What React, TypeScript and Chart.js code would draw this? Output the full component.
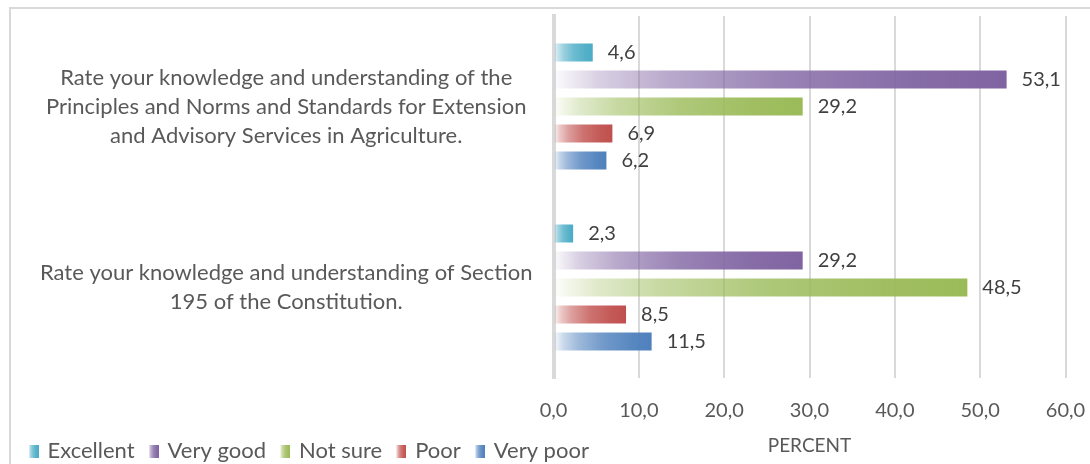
import React, { useEffect, useRef } from "react";
import { Chart, registerables } from "chart.js";

Chart.register(...registerables);

const categories: string[][] = [
  [
    "Rate your knowledge and understanding of the",
    "Principles and Norms and Standards for Extension",
    "and Advisory Services in Agriculture.",
  ],
  [
    "Rate your knowledge and understanding of Section",
    "195 of the Constitution.",
  ],
];

const seriesNames = ["Excellent", "Very good", "Not sure", "Poor", "Very poor"];
const excellent = [4.6, 2.3];
const veryGood = [53.1, 29.2];
const notSure = [29.2, 48.5];
const poor = [6.9, 8.5];
const veryPoor = [6.2, 11.5];
const seriesColors = ["#4bacc6", "#8064a2", "#9bbb59", "#c0504d", "#4f81bd"];

const xTicks = [0, 10, 20, 30, 40, 50, 60];
const axisTitle = "PERCENT";

const FONT = "Lato";
const TEXT = "#595959";
const LABEL = "#404040";
const GRID = "#d9d9d9";
const PAD_LEFT = 14.5;

function rgba(hex: string, a: number) {
  const n = parseInt(hex.slice(1), 16);
  return `rgba(${(n >> 16) & 255},${(n >> 8) & 255},${n & 255},${a})`;
}

const stops: [number, number][] = [
  [0, 0.02],
  [0.1, 0.3],
  [0.25, 0.55],
  [0.5, 0.8],
  [0.8, 0.95],
  [1, 1],
];

function makeSwatch(color: string) {
  const c = document.createElement("canvas");
  c.width = 10;
  c.height = 13;
  const g = c.getContext("2d")!;
  const gr = g.createLinearGradient(0, 0, 10, 0);
  stops.forEach(([p, a]) => gr.addColorStop(p, rgba(color, a)));
  g.fillStyle = gr;
  g.fillRect(0, 0, 10, 13);
  return c;
}

export default function App() {
  const ref = useRef<HTMLCanvasElement | null>(null);

  useEffect(() => {
    document.body.style.margin = "0";
    const canvas = ref.current;
    if (!canvas) return;

    const values = [excellent, veryGood, notSure, poor, veryPoor];
    const swatches = seriesColors.map(makeSwatch);

    const datasets = seriesNames.map((name, i) => ({
      label: name,
      data: values[i],
      borderWidth: 0,
      categoryPercentage: 0.746,
      barPercentage: 0.667,
      backgroundColor: (ctx: any) => {
        const color = seriesColors[i];
        const chart = ctx.chart;
        if (ctx.type !== "data" || !chart.chartArea || !chart.scales.x) return color;
        const xs = chart.scales.x;
        const x0 = xs.getPixelForValue(0);
        const x1 = xs.getPixelForValue(ctx.raw);
        if (!isFinite(x0) || !isFinite(x1) || x1 - x0 < 1) return color;
        const gr = chart.ctx.createLinearGradient(x0, 0, x1, 0);
        stops.forEach(([p, a]) => gr.addColorStop(p, rgba(color, a)));
        return gr;
      },
    }));

    const borderPlugin = {
      id: "outerBorder",
      beforeDraw(chart: any) {
        const c = chart.ctx;
        c.save();
        c.strokeStyle = GRID;
        c.lineWidth = 2;
        c.beginPath();
        c.moveTo(10, chart.height + 5);
        c.lineTo(10, 8);
        c.lineTo(chart.width + 5, 8);
        c.stroke();
        c.restore();
      },
    };

    const labelPlugin = {
      id: "valueLabels",
      afterDatasetsDraw(chart: any) {
        const c = chart.ctx;
        c.save();
        c.font = `20px ${FONT}`;
        c.fillStyle = LABEL;
        c.textAlign = "left";
        c.textBaseline = "middle";
        chart.data.datasets.forEach((ds: any, i: number) => {
          const meta = chart.getDatasetMeta(i);
          meta.data.forEach((el: any, j: number) => {
            const v = ds.data[j] as number;
            c.fillText(v.toFixed(1).replace(".", ","), el.x + 15, el.y);
          });
        });
        const ca = chart.chartArea;
        c.font = `19px ${FONT}`;
        c.fillStyle = TEXT;
        c.textAlign = "center";
        c.fillText(axisTitle, (ca.left + ca.right) / 2, 446);
        c.restore();
      },
    };

    const chart = new Chart(canvas, {
      type: "bar",
      data: { labels: categories as any, datasets: datasets as any },
      plugins: [borderPlugin, labelPlugin],
      options: {
        indexAxis: "y",
        animation: false,
        responsive: true,
        maintainAspectRatio: false,
        events: [],
        layout: { padding: { left: PAD_LEFT, top: 16, right: 24.5, bottom: -8 } },
        scales: {
          x: {
            min: 0,
            max: 60,
            afterBuildTicks: (scale: any) => {
              scale.ticks = xTicks.map((v) => ({ value: v }));
            },
            afterFit: (scale: any) => {
              scale.height = 46;
              scale.paddingLeft = 0;
              scale.paddingRight = 0;
            },
            grid: { color: GRID, lineWidth: 2, drawTicks: false },
            border: { display: false },
            ticks: {
              padding: 21,
              color: TEXT,
              font: { family: FONT, size: 20 },
              callback: (v: any) => Number(v).toFixed(1).replace(".", ","),
            },
          },
          y: {
            grid: { display: false, drawTicks: false },
            border: { display: true, color: GRID, width: 4 },
            afterFit: (scale: any) => {
              scale.width = 553.5 - PAD_LEFT;
              scale.paddingTop = 0;
              scale.paddingBottom = 0;
            },
            ticks: {
              crossAlign: "center",
              padding: 21,
              color: TEXT,
              font: { family: FONT, size: 22, lineHeight: "29px" },
            },
          },
        },
        plugins: {
          tooltip: { enabled: false },
          legend: {
            position: "bottom",
            align: "start",
            labels: {
              usePointStyle: true,
              pointStyleWidth: 6,
              padding: 16,
              color: TEXT,
              font: { family: FONT, size: 22 },
              generateLabels: () =>
                seriesNames.map((name, i) => ({
                  text: name,
                  fillStyle: seriesColors[i],
                  strokeStyle: "rgba(0,0,0,0)",
                  lineWidth: 0,
                  pointStyle: swatches[i],
                  hidden: false,
                  datasetIndex: i,
                  fontColor: TEXT,
                })) as any,
            },
          },
        },
      },
    });

    return () => chart.destroy();
  }, []);

  return (
    <div style={{ position: "relative", width: 1090, height: 464 }}>
      <canvas ref={ref} />
    </div>
  );
}
